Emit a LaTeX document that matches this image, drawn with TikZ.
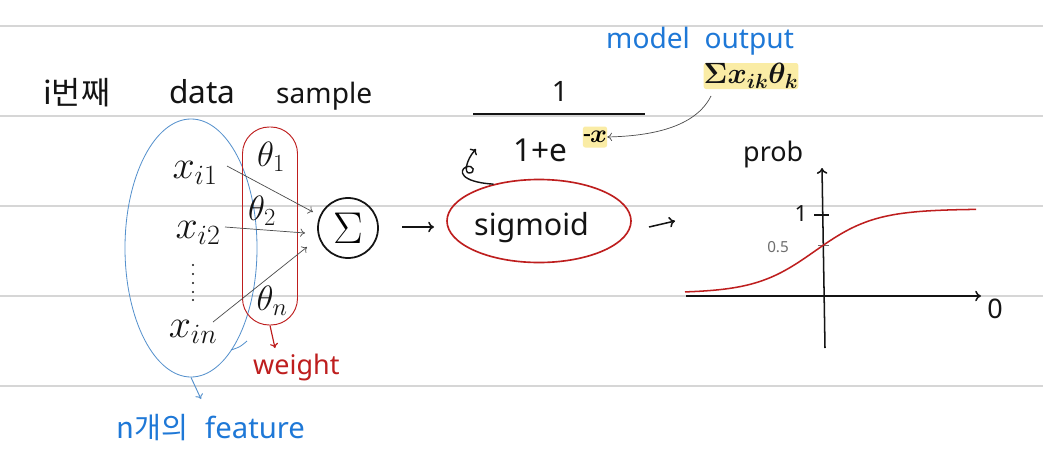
\RequirePackage{fix-cm}
\documentclass[tikz,border=0pt]{standalone}
\usepackage{fontspec}
\setmainfont{Noto Sans}
\newfontfamily\krfont{Noto Sans CJK KR}
\usetikzlibrary{arrows.meta,shapes.geometric}
\definecolor{rulegray}{RGB}{214,214,214}
\definecolor{ink}{RGB}{20,20,20}
\definecolor{thinink}{RGB}{75,75,75}
\definecolor{pblue}{RGB}{30,120,215}
\definecolor{eblue}{RGB}{85,145,205}
\definecolor{pred}{RGB}{190,30,30}
\definecolor{hilite}{RGB}{250,236,165}
\definecolor{softgray}{RGB}{110,110,110}
\newcommand{\fsz}[1]{\fontsize{#1}{#1}\selectfont}
\begin{document}
\begin{tikzpicture}[x=0.03cm,y=-0.03cm,
  lbl/.style={inner sep=0pt, text=ink},
  bluetxt/.style={inner sep=0pt, text=pblue},
  redtxt/.style={inner sep=0pt, text=pred},
  ruled/.style={draw=rulegray, line width=2.2pt},
  thinarrow/.style={draw=thinink, line width=0.6pt, -{To[length=4pt,width=7pt]}},
  penarrow/.style={draw=ink, line width=1.3pt, -{To[length=5pt,width=9pt]}},
  hl/.style={fill=hilite, inner sep=0pt, rounded corners=2pt}
]
\fill[white] (0,0) rectangle (1043,472);
\useasboundingbox (0,0) rectangle (1043,472);
\foreach \yy in {26,116,206,296,386} \draw[ruled] (0,\yy) -- (1043,\yy);

% title
\node[lbl, anchor=base west] (ith) at (43,104) {\krfont\fsz{27}i번째};
\node[lbl, anchor=base west, font=\fsz{27}] (data) at (169,103) {data};
\node[lbl, anchor=base west, font=\fsz{24}] (sample) at (276,103) {sample};

% feature group and weights
\node[ellipse, draw=eblue, line width=0.7pt, minimum width=3.96cm, minimum height=7.74cm] (feat) at (191,248) {};
\node[draw=pred, line width=0.8pt, rounded corners=0.8cm, minimum width=1.65cm, minimum height=5.94cm] (wts) at (270,226) {};
\draw[eblue, line width=0.7pt] (247,341) .. controls (240,347) .. (231,350);

\node[lbl, font=\fsz{34}] (xi1) at (195,173) {$x_{i1}$};
\node[lbl, font=\fsz{34}] (xi2) at (198,233) {$x_{i2}$};
\node[lbl, font=\fsz{34}] (xin) at (193,332) {$x_{in}$};
\foreach \yy in {265,274,283,292,300} \fill[ink] (193,\yy) circle (0.9pt);

\node[lbl, font=\fsz{30}] (t1) at (271,157) {$\theta_1$};
\node[lbl, font=\fsz{30}] (t2) at (262,211) {$\theta_2$};
\node[lbl, font=\fsz{30}] (tn) at (272,301) {$\theta_n$};

\node[circle, draw=ink, line width=1.5pt, minimum size=1.8cm, inner sep=0pt] (sum) at (348,228) {\fsz{38}$\Sigma$};

\coordinate (s1) at (227,166); \coordinate (e1) at (313,212);
\coordinate (s2) at (225,227); \coordinate (e2) at (305,233);
\coordinate (s3) at (213,322); \coordinate (e3) at (307,247);
\draw[thinarrow] (s1) -- (e1);
\draw[thinarrow] (s2) -- (e2);
\draw[thinarrow] (s3) -- (e3);

% labels below groups
\coordinate (fb) at (201,399);
\draw[eblue, line width=0.8pt, -{To[length=4pt,width=7pt]}] (feat.south) -- (fb);
\node[bluetxt, anchor=base west] (ngae) at (116,438) {\krfont\fsz{25}n개의};
\node[bluetxt, anchor=base west, font=\fsz{25}] (feature) at (205,438) {feature};

\coordinate (wb) at (275,348);
\draw[pred, line width=1pt, -{To[length=4pt,width=7pt]}] (wts.south) -- (wb);
\node[redtxt, anchor=base west, font=\fsz{23}] (weight) at (253,374) {weight};

% arrow to sigmoid
\coordinate (p1) at (402,227); \coordinate (p2) at (434,227);
\draw[penarrow] (p1) -- (p2);

\node[ellipse, draw=pred, line width=1.4pt, minimum width=5.52cm, minimum height=2.49cm] (sgm) at (539,221) {};
\node[lbl, anchor=base west, font=\fsz{26}] (sgmtxt) at (474,235) {sigmoid};

% formula
\node[lbl, font=\fsz{24}] (one) at (560,91) {1};
\coordinate (fl) at (473,114); \coordinate (fr) at (645,114);
\draw[ink, line width=1.5pt] (fl) -- (fr);
\node[lbl, anchor=base west, font=\fsz{27}] (den) at (513,161) {1+e};
\node[hl, minimum width=0.66cm, minimum height=0.63cm, font=\fsz{22}\mathversion{bold}] (ex) at (595,137) {-\kern-1pt$x$};

\node[bluetxt, anchor=base west, font=\fsz{24}] (mo) at (606,48) {model\ \ output};
\node[hl, minimum width=2.7cm, minimum height=0.78cm, font=\fsz{25}\mathversion{bold}, text=ink] (sumx) at (751,76) {$\Sigma x_{ik}\theta_k$};
\coordinate (cs) at (711,96);
\draw[thinarrow] (cs) .. controls (695,128) and (650,136) .. (ex.east);

% hook arrow from sigmoid
\coordinate (hk) at (476,149);
\draw[ink, line width=1.2pt, -{To[length=4pt,width=8pt]}] (sgm.141) .. controls (459,182) and (459,170) .. (466,167) .. controls (474,164) and (476,173) .. (469,173) .. controls (464,173) and (466,160) .. (hk);

% arrow to graph
\coordinate (q1) at (649,227); \coordinate (q2) at (675,221);
\draw[penarrow] (q1) -- (q2);

% graph
\node[lbl, anchor=base west, font=\fsz{23}] (prob) at (743,161) {prob};
\coordinate (yb) at (825,348); \coordinate (yt) at (822,168);
\coordinate (xl) at (686,296); \coordinate (xr) at (981,296);
\draw[penarrow] (yb) -- (yt);
\draw[penarrow] (xl) -- (xr);
\draw[ink, line width=1pt] (814,215) -- (829,215);
\draw[softgray, line width=0.6pt] (818,245) -- (829,245);
\node[lbl, font=\fsz{19}] (lone) at (801,214) {1};
\node[inner sep=0pt, text=softgray, font=\fsz{13}] (lhalf) at (778,247) {0.5};
\node[lbl, font=\fsz{23}] (zero) at (995,309) {0};
\draw[pred, line width=1.3pt] plot[domain=685:976, samples=100] (\x,{293-84/(1+exp(-(\x-815)/30))});
\end{tikzpicture}
\end{document}
